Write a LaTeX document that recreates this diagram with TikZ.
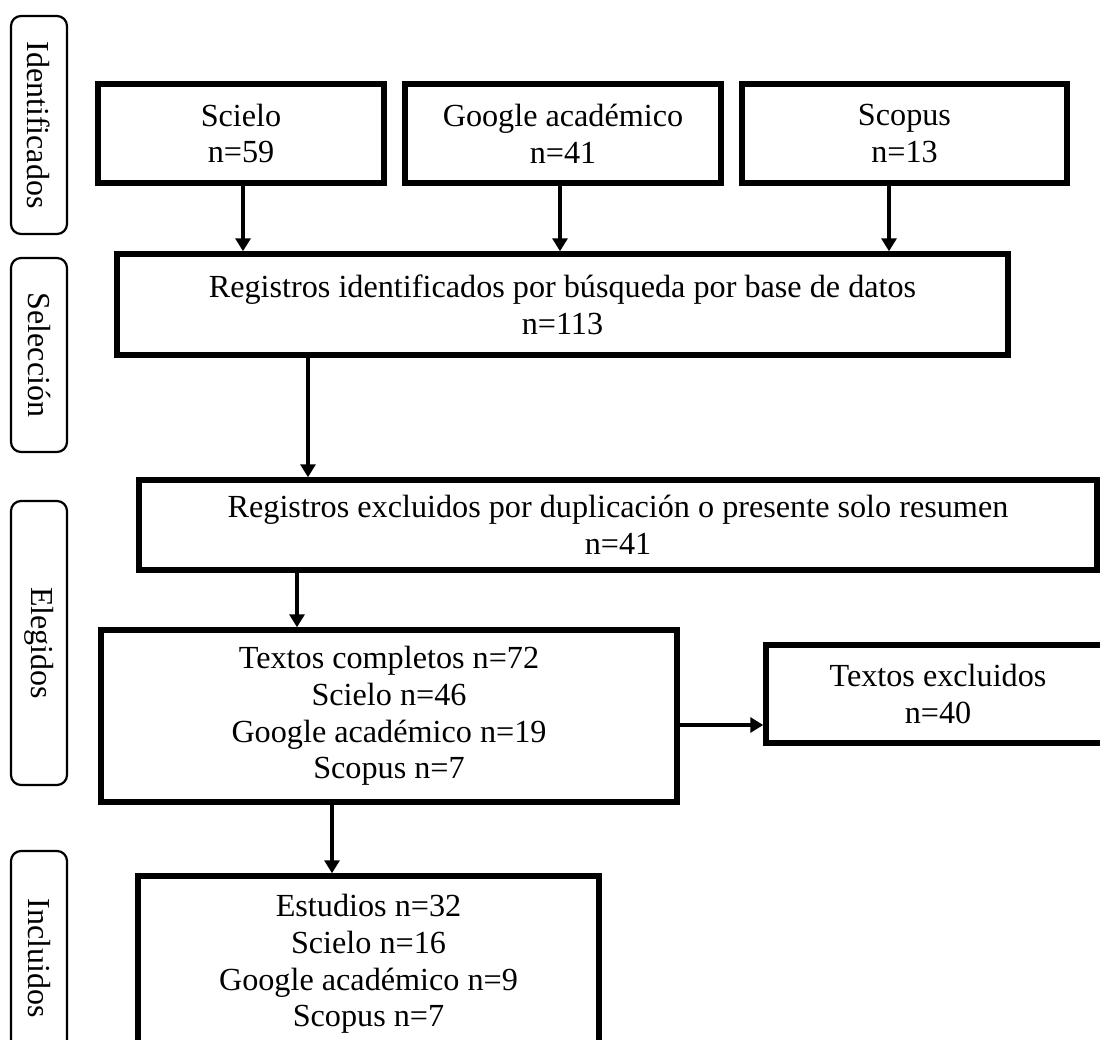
\documentclass[tikz,border=0pt]{standalone}
\usepackage{fontspec}
\setmainfont{Liberation Serif}
\usetikzlibrary{arrows.meta,calc}
\begin{document}
\begin{tikzpicture}[x=1pt,y=-1pt,
  box/.style={draw,line width=5.5pt,rectangle,align=center,inner sep=0pt,font=\fontsize{32.2}{36.7}\selectfont},
  side/.style={draw,line width=2.2pt,rounded corners=10pt,minimum height=56pt,inner sep=0pt,font=\fontsize{32}{36.7}\selectfont,rotate=-90},
  arr/.style={line width=4pt,-{Triangle[width=15pt,length=13pt]}}]
\useasboundingbox (0,0) rectangle (1100,1039);
\clip (0,0) rectangle (1100,1039);

% side labels
\node[side,minimum width=218pt] (lab1) at (39,125) {Identificados};
\node[side,minimum width=194pt] (lab2) at (39,355) {Selección};
\node[side,minimum width=284pt] (lab3) at (39,643) {Elegidos};
\node[side,minimum width=214pt] (lab4) at (39,958) {Incluidos};

% boxes
\node[box,minimum width=286pt,minimum height=99pt] (scielo) at (241,133.5) {Scielo\\n=59};
\node[box,minimum width=316pt,minimum height=99pt] (google) at (563,133.5) {Google académico\\n=41};
\node[box,minimum width=325pt,minimum height=99pt] (scopus) at (904.5,133.5) {Scopus\\n=13};
\node[box,minimum width=891pt,minimum height=101pt] (regid) at (562.5,304.5) {Registros identificados por búsqueda por base de datos\\n=113};
\node[box,minimum width=958pt,minimum height=90pt] (regexc) at (618,525) {Registros excluidos por duplicación o presente solo resumen\\n=41};
\node[box,minimum width=576pt,minimum height=172pt] (textos) at (389,716) {Textos completos n=72\\Scielo n=46\\Google académico n=19\\Scopus n=7};
\node[box,minimum width=344pt,minimum height=98pt] (textexc) at (938,694) {Textos excluidos\\n=40};
\node[box,minimum width=461pt,minimum height=176pt] (estudios) at (368.5,964) {Estudios n=32\\Scielo n=16\\Google académico n=9\\Scopus n=7};

% connectors
\draw[arr] ([xshift=2pt]scielo.south) -- ([xshift=2pt]scielo.south |- regid.north);
\draw[arr] ([xshift=-3pt]google.south) -- ([xshift=-3pt]google.south |- regid.north);
\draw[arr] ([xshift=-15.5pt]scopus.south) -- ([xshift=-15.5pt]scopus.south |- regid.north);
\draw[arr] ([xshift=-254.5pt]regid.south) -- ([xshift=-254.5pt]regid.south |- regexc.north);
\draw[arr] ([xshift=-321pt]regexc.south) -- ([xshift=-321pt]regexc.south |- textos.north);
\draw[arr] ([yshift=-9pt]textos.east) -- ([yshift=-9pt]textos.east -| textexc.west);
\draw[arr] ([xshift=-57pt]textos.south) -- ([xshift=-57pt]textos.south |- estudios.north);
\end{tikzpicture}
\end{document}
